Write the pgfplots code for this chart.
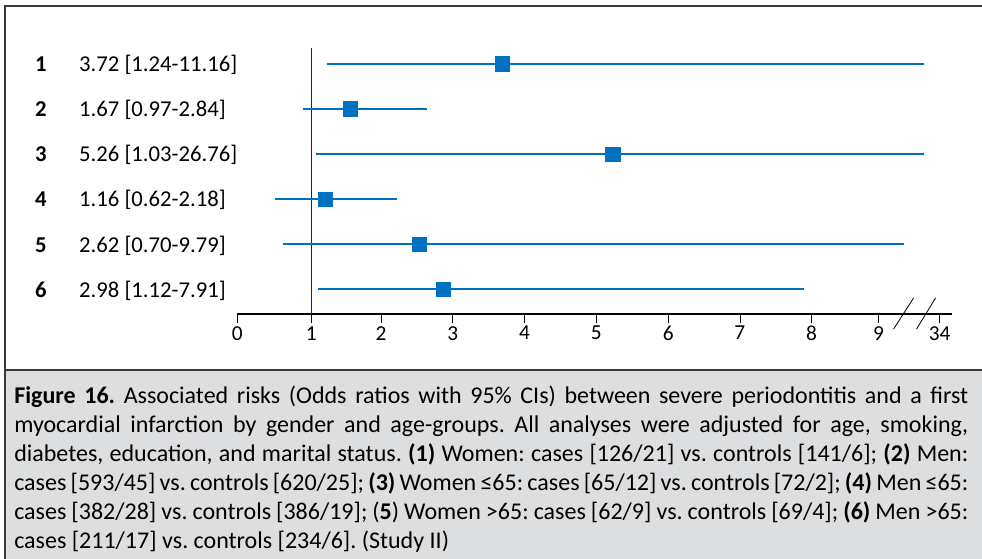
\documentclass[border=0pt]{standalone}
\usepackage{pgfplots}
\pgfplotsset{compat=1.18}
\usepackage{fontspec}
\setmainfont{Carlito}
\definecolor{fblue}{HTML}{0070C0}
\definecolor{capgray}{HTML}{DDDEE0}
\definecolor{framec}{HTML}{3A3A3A}
\newcommand{\capfont}{\fontsize{18}{22}\selectfont}
\newcommand{\lab}{\fontsize{16}{19}\selectfont}
\newcommand{\rlab}{\fontsize{17}{20}\selectfont}
\begin{document}
\frenchspacing
\begin{tikzpicture}
\begin{scope}[x=0.75pt,y=-0.75pt]
\useasboundingbox (0,0) rectangle (982,558);
\fill[capgray] (5,370) rectangle (990,570);
\draw[framec,line width=1.1pt] (5,570) -- (5,6) -- (990,6);
\draw[framec,line width=1.1pt] (5,370) -- (990,370);
\capfont
\node[anchor=base west,inner sep=0pt] at (14,403) {\makebox[715.5pt][s]{\textbf{Figure 16.} Associated risks (Odds ratios with 95\% CIs) between severe periodontitis and a first}};
\node[anchor=base west,inner sep=0pt] at (14,432.1) {\makebox[715.5pt][s]{myocardial infarction by gender and age-groups. All analyses were adjusted for age, smoking,}};
\node[anchor=base west,inner sep=0pt] at (14,461.2) {\makebox[715.5pt][s]{diabetes, education, and marital status. \textbf{(1)} Women: cases [126/21] vs. controls [141/6]; \textbf{(2)} Men:}};
\node[anchor=base west,inner sep=0pt] at (14,490.3) {\makebox[715.5pt][s]{cases [593/45] vs. controls [620/25]; \textbf{(3)} Women ≤65: cases [65/12] vs. controls [72/2]; \textbf{(4)} Men ≤65:}};
\node[anchor=base west,inner sep=0pt] at (14,519.4) {\makebox[715.5pt][s]{cases [382/28] vs. controls [386/19]; (\textbf{5}) Women >65: cases [62/9] vs. controls [69/4]; \textbf{(6)} Men >65:}};
\node[anchor=base west,inner sep=0pt] at (14,548.5) {cases [211/17] vs. controls [234/6]. (Study II)};
\end{scope}
\begin{axis}[
  at={(177.975pt,-36pt)}, anchor=north west,
  scale only axis, width=536.25pt, height=199.5pt,
  xmin=0, xmax=9.961, ymin=-6.547, ymax=-0.652,
  axis x line=bottom, axis y line=none,
  x axis line style={-, line width=0.8pt, black},
  xtick={0,1.031,2.003,3.002,4,5,6.004,7.002,8,8.934,9.784},
  xticklabels={0,1,2,3,4,5,6,7,8,9,34},
  tick align=outside, major tick length=6.5pt,
  xtick style={black, line width=0.6pt},
  xticklabel style={font=\lab, inner sep=0pt, anchor=north},
  xticklabel shift=2.5pt,
  clip=false,
]
% reference line at OR = 1
\addplot[black!85, line width=0.8pt] coordinates {(1.031,-0.652) (1.031,-6.547)};
% confidence intervals
\addplot[fblue, line width=1.5pt] coordinates {(1.246,-1) (9.571,-1)};
\addplot[fblue, line width=1.5pt] coordinates {(0.920,-2) (2.648,-2)};
\addplot[fblue, line width=1.5pt] coordinates {(1.093,-3) (9.571,-3)};
\addplot[fblue, line width=1.5pt] coordinates {(0.530,-4) (2.222,-4)};
\addplot[fblue, line width=1.5pt] coordinates {(0.641,-5) (9.288,-5)};
\addplot[fblue, line width=1.5pt] coordinates {(1.129,-6) (7.894,-6)};
% point estimates
\addplot[only marks, mark=square*, mark size=5.35pt, fblue] coordinates {(3.689,-1) (1.571,-2) (5.232,-3) (1.222,-4) (2.537,-5) (2.871,-6)};
% axis break marks
\addplot[black, line width=0.6pt] coordinates {(9.143,-6.88) (9.422,-6.19)};
\addplot[black, line width=0.6pt] coordinates {(9.463,-6.88) (9.728,-6.19)};
% row labels
\node[anchor=base,font=\rlab\bfseries,inner sep=0pt,yshift=-5.9pt] at (axis cs:-2.736,-1) {1};
\node[anchor=base,font=\rlab\bfseries,inner sep=0pt,yshift=-5.9pt] at (axis cs:-2.736,-2) {2};
\node[anchor=base,font=\rlab\bfseries,inner sep=0pt,yshift=-5.9pt] at (axis cs:-2.736,-3) {3};
\node[anchor=base,font=\rlab\bfseries,inner sep=0pt,yshift=-5.9pt] at (axis cs:-2.736,-4) {4};
\node[anchor=base,font=\rlab\bfseries,inner sep=0pt,yshift=-5.9pt] at (axis cs:-2.736,-5) {5};
\node[anchor=base,font=\rlab\bfseries,inner sep=0pt,yshift=-5.9pt] at (axis cs:-2.736,-6) {6};
\node[anchor=base west,font=\rlab,inner sep=0pt,yshift=-5.9pt] at (axis cs:-2.206,-1) {3.72 [1.24-11.16]};
\node[anchor=base west,font=\rlab,inner sep=0pt,yshift=-5.9pt] at (axis cs:-2.206,-2) {1.67 [0.97-2.84]};
\node[anchor=base west,font=\rlab,inner sep=0pt,yshift=-5.9pt] at (axis cs:-2.206,-3) {5.26 [1.03-26.76]};
\node[anchor=base west,font=\rlab,inner sep=0pt,yshift=-5.9pt] at (axis cs:-2.206,-4) {1.16 [0.62-2.18]};
\node[anchor=base west,font=\rlab,inner sep=0pt,yshift=-5.9pt] at (axis cs:-2.206,-5) {2.62 [0.70-9.79]};
\node[anchor=base west,font=\rlab,inner sep=0pt,yshift=-5.9pt] at (axis cs:-2.206,-6) {2.98 [1.12-7.91]};
\end{axis}
\end{tikzpicture}
\end{document}
